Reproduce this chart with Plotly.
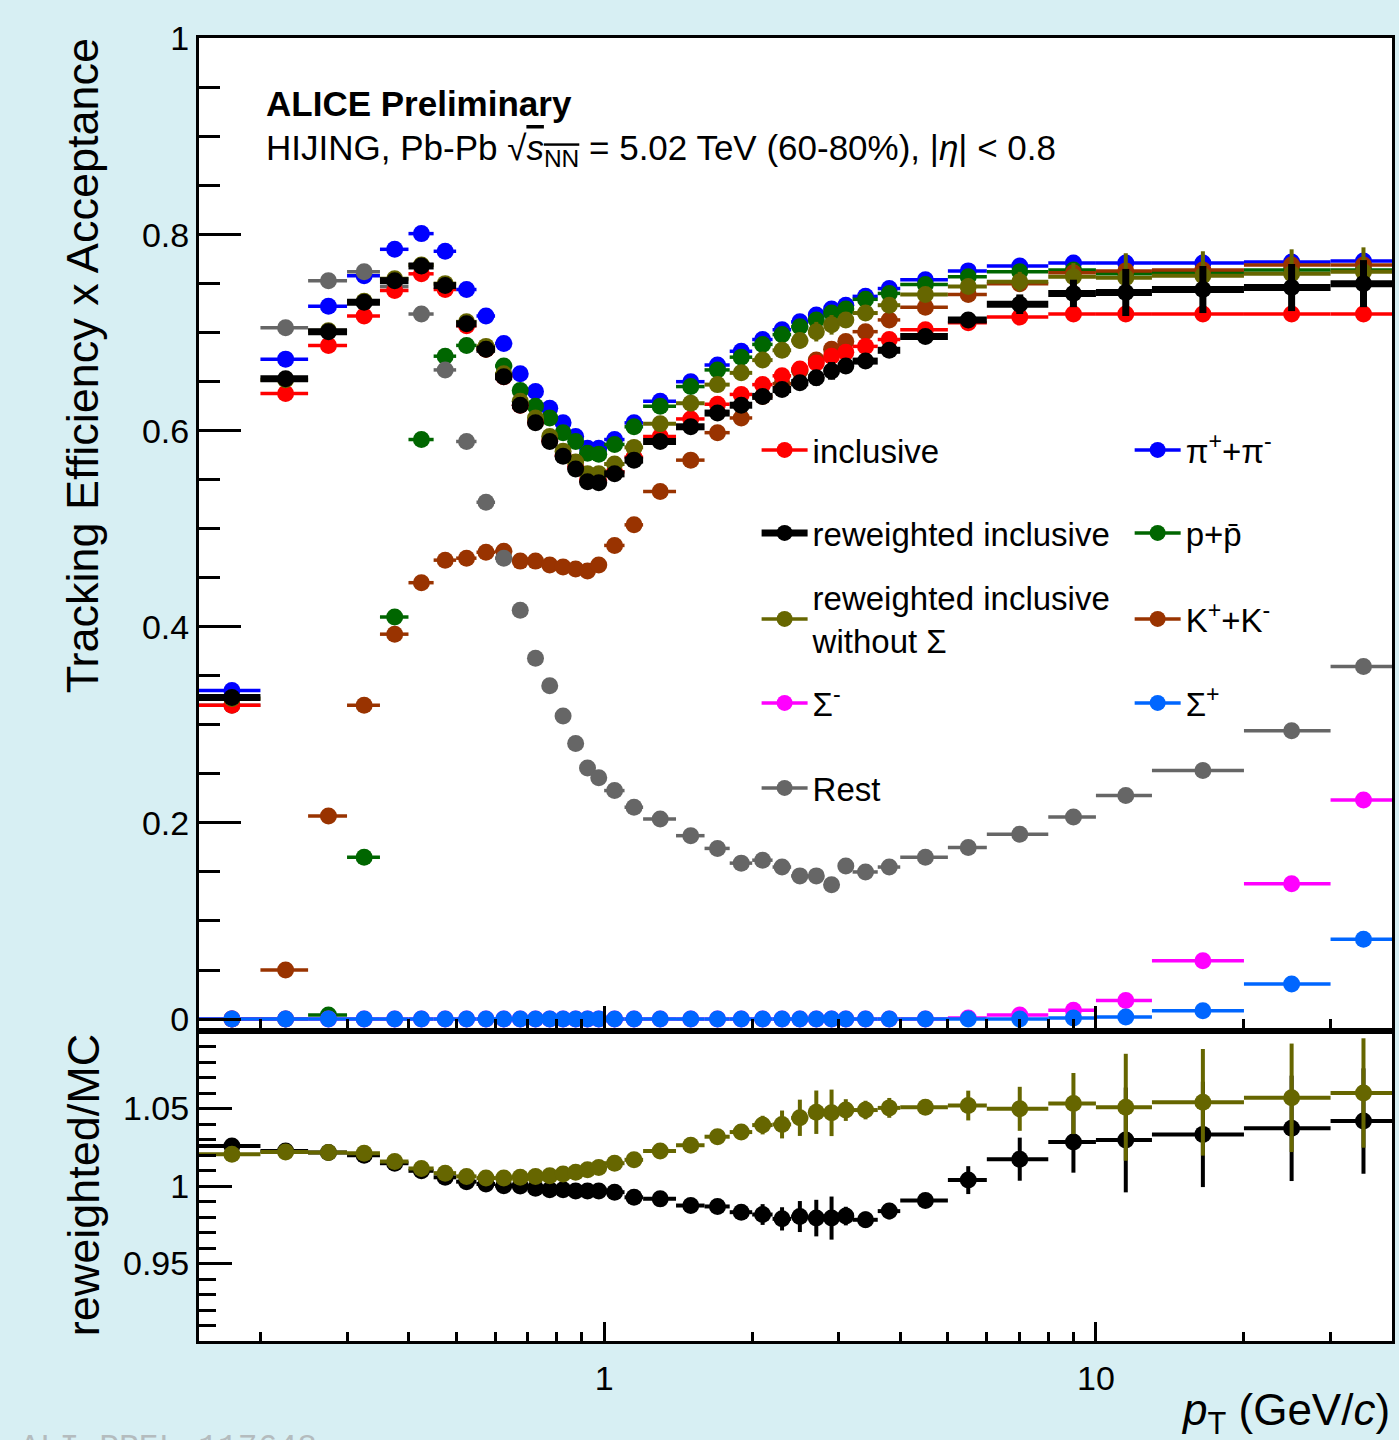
import math
import plotly.graph_objects as go

# ---------------- data ----------------
bin_edges = [0.15, 0.2, 0.25, 0.3, 0.35, 0.4, 0.45, 0.5, 0.55, 0.6, 0.65, 0.7, 0.75, 0.8,
             0.85, 0.9, 0.95, 1.0, 1.1, 1.2, 1.4, 1.6, 1.8, 2.0, 2.2, 2.4, 2.6, 2.8, 3.0,
             3.2, 3.6, 4.0, 5.0, 6.0, 8.0, 10.0, 13.0, 20.0, 30.0, 40.0]
pt = [(a + b) / 2 for a, b in zip(bin_edges[:-1], bin_edges[1:])]
pt_hw = [(b - a) / 2 for a, b in zip(bin_edges[:-1], bin_edges[1:])]

inclusive = [0.320, 0.638, 0.687, 0.717, 0.743, 0.760, 0.744, 0.707, 0.683, 0.655, 0.626, 0.609, 0.590,
             0.575, 0.563, 0.550, 0.549, 0.558, 0.573, 0.594, 0.612, 0.627, 0.637, 0.647, 0.656, 0.663,
             0.669, 0.676, 0.680, 0.686, 0.693, 0.703, 0.710, 0.716, 0.719, 0.719, 0.719, 0.719, 0.719]
reweighted = [0.328, 0.653, 0.701, 0.731, 0.753, 0.768, 0.748, 0.709, 0.683, 0.655, 0.626, 0.608, 0.589,
              0.574, 0.561, 0.548, 0.547, 0.556, 0.570, 0.589, 0.604, 0.618, 0.626, 0.635, 0.642, 0.649,
              0.654, 0.661, 0.666, 0.671, 0.682, 0.696, 0.713, 0.729, 0.740, 0.741, 0.744, 0.746, 0.750]
reweighted_err = [0.002, 0.002, 0.002, 0.002, 0.002, 0.002, 0.002, 0.002, 0.002, 0.002, 0.002, 0.002, 0.002,
                  0.002, 0.002, 0.002, 0.002, 0.002, 0.002, 0.002, 0.002, 0.002, 0.002, 0.004, 0.005, 0.007,
                  0.008, 0.009, 0.004, 0.004, 0.004, 0.002, 0.006, 0.010, 0.014, 0.024, 0.024, 0.024, 0.024]
reweighted_nosigma = [0.327, 0.652, 0.702, 0.732, 0.755, 0.769, 0.750, 0.711, 0.686, 0.658, 0.630, 0.613, 0.594,
                      0.579, 0.568, 0.556, 0.556, 0.566, 0.583, 0.607, 0.628, 0.647, 0.659, 0.672, 0.682, 0.692,
                      0.701, 0.708, 0.713, 0.720, 0.728, 0.739, 0.747, 0.752, 0.757, 0.756, 0.758, 0.760, 0.762]
reweighted_nosigma_err = [0.002, 0.002, 0.002, 0.002, 0.002, 0.002, 0.002, 0.002, 0.002, 0.002, 0.002, 0.002, 0.002,
                          0.002, 0.002, 0.002, 0.002, 0.002, 0.002, 0.002, 0.002, 0.003, 0.003, 0.004, 0.006, 0.008,
                          0.010, 0.010, 0.005, 0.004, 0.005, 0.004, 0.007, 0.010, 0.014, 0.025, 0.025, 0.025, 0.025]
sigma_minus = [0.0, 0.0, 0.0, 0.0, 0.0, 0.0, 0.0, 0.0, 0.0, 0.0, 0.0, 0.0, 0.0,
               0.0, 0.0, 0.0, 0.0, 0.0, 0.0, 0.0, 0.0, 0.0, 0.0, 0.0, 0.0, 0.0,
               0.0, 0.0, 0.0, 0.0, 0.0, 0.0, 0.001, 0.004, 0.009, 0.019, 0.0595, 0.138, 0.2235]
rest = [0.320, 0.705, 0.753, 0.762, 0.747, 0.719, 0.662, 0.589, 0.527, 0.470, 0.417, 0.368, 0.340,
        0.309, 0.281, 0.256, 0.246, 0.233, 0.216, 0.204, 0.187, 0.174, 0.159, 0.162, 0.155, 0.146,
        0.146, 0.137, 0.156, 0.150, 0.155, 0.165, 0.175, 0.1885, 0.206, 0.228, 0.2535, 0.294, 0.3595]
pions = [0.335, 0.673, 0.727, 0.758, 0.785, 0.801, 0.783, 0.744, 0.717, 0.689, 0.658, 0.640, 0.623,
         0.608, 0.594, 0.582, 0.582, 0.591, 0.608, 0.630, 0.650, 0.667, 0.681, 0.693, 0.703, 0.711,
         0.718, 0.724, 0.728, 0.737, 0.745, 0.754, 0.763, 0.768, 0.771, 0.771, 0.771, 0.772, 0.773]
protons = [0.0, 0.0, 0.004, 0.165, 0.410, 0.591, 0.676, 0.687, 0.683, 0.666, 0.641, 0.625, 0.613,
           0.598, 0.589, 0.577, 0.576, 0.586, 0.604, 0.625, 0.645, 0.662, 0.675, 0.688, 0.698, 0.706,
           0.713, 0.720, 0.724, 0.734, 0.740, 0.749, 0.757, 0.762, 0.764, 0.760, 0.761, 0.764, 0.764]
kaons = [0.0, 0.050, 0.207, 0.320, 0.3925, 0.445, 0.468, 0.470, 0.476, 0.477, 0.467, 0.467, 0.463,
         0.461, 0.459, 0.457, 0.463, 0.483, 0.504, 0.538, 0.570, 0.598, 0.613, 0.635, 0.648, 0.661,
         0.672, 0.683, 0.691, 0.701, 0.713, 0.726, 0.739, 0.750, 0.761, 0.763, 0.764, 0.769, 0.769]
sigma_plus = [0.0, 0.0, 0.0, 0.0, 0.0, 0.0, 0.0, 0.0, 0.0, 0.0, 0.0, 0.0, 0.0,
              0.0, 0.0, 0.0, 0.0, 0.0, 0.0, 0.0, 0.0, 0.0, 0.0, 0.0, 0.0, 0.0,
              0.0, 0.0, 0.0, 0.0, 0.0, 0.0, 0.0, 0.0, 0.001, 0.002, 0.0085, 0.0357, 0.0813]

ratio_rw = [1.0258, 1.0226, 1.0216, 1.0199, 1.0147, 1.0098, 1.0056, 1.0028, 1.0013, 1.0002, 1.0000, 0.9985, 0.9976,
            0.9976, 0.9968, 0.9968, 0.9968, 0.9960, 0.9927, 0.9917, 0.9874, 0.9868, 0.9831, 0.9816, 0.9788, 0.9803,
            0.9793, 0.9793, 0.9806, 0.9782, 0.9838, 0.9906, 1.0038, 1.0173, 1.0284, 1.0297, 1.0333, 1.0372, 1.0419]
ratio_rw_err = [0.001, 0.001, 0.001, 0.001, 0.001, 0.001, 0.001, 0.001, 0.001, 0.001, 0.001, 0.001, 0.001,
                0.001, 0.001, 0.001, 0.001, 0.001, 0.001, 0.001, 0.002, 0.003, 0.003, 0.0067, 0.0075, 0.010,
                0.0118, 0.0139, 0.006, 0.0053, 0.0053, 0.003, 0.009, 0.0139, 0.0198, 0.0338, 0.034, 0.034, 0.034]
ratio_nosig = [1.0205, 1.0220, 1.0216, 1.0212, 1.0158, 1.0113, 1.0083, 1.0062, 1.0051, 1.0051, 1.0056, 1.0062, 1.0066,
               1.0077, 1.0088, 1.0105, 1.0120, 1.0147, 1.0169, 1.0226, 1.0263, 1.0318, 1.0348, 1.0393, 1.0397, 1.0440,
               1.0476, 1.0472, 1.0490, 1.0490, 1.0504, 1.0508, 1.0519, 1.0498, 1.0532, 1.0508, 1.0540, 1.0569, 1.0600]
ratio_nosig_err = [0.001, 0.001, 0.001, 0.001, 0.001, 0.001, 0.001, 0.001, 0.001, 0.001, 0.001, 0.001, 0.001,
                   0.001, 0.001, 0.001, 0.001, 0.001, 0.001, 0.001, 0.002, 0.004, 0.005, 0.006, 0.009, 0.0117,
                   0.014, 0.015, 0.007, 0.006, 0.0064, 0.005, 0.0096, 0.0142, 0.0197, 0.0345, 0.0344, 0.035, 0.0353]

y_major = [0, 0.2, 0.4, 0.6, 0.8, 1.0]
y_major_text = ["0", "0.2", "0.4", "0.6", "0.8", "1"]
r_major = [0.95, 1.0, 1.05]
r_major_text = ["0.95", "1", "1.05"]
x_major = [1, 10]
x_major_text = ["1", "10"]
x_minor = [0.2, 0.3, 0.4, 0.5, 0.6, 0.7, 0.8, 0.9, 2, 3, 4, 5, 6, 7, 8, 9, 20, 30, 40]

# ---------------- styling ----------------
FONT = "Liberation Sans"
RED, BLACK, OLIVE, MAGENTA, GRAY = "#ff0000", "#000000", "#666600", "#ff00ff", "#666666"
BLUE, GREEN, BROWN, AZURE = "#0000ff", "#006600", "#993300", "#0066ff"
MS = 17

W, H = 1399, 1440
ML, MR, MT, MB = 199, 4, 38, 99
PW, PH = W - ML - MR, H - MT - MB
split = (1341 - 1031) / PH


def px_x(p):
    return (p - ML) / PW


def px_y(p):
    return (H - MB - p) / PH


def series(y, color, ax, ey=None, lw=3.5):
    return go.Scatter(
        x=pt, y=y, mode="markers", xaxis=ax[0], yaxis=ax[1],
        marker=dict(color=color, size=MS, line=dict(width=0)),
        error_x=dict(type="data", array=pt_hw, color=color, thickness=lw, width=0),
        error_y=dict(type="data", array=ey if ey is not None else [0] * len(pt),
                     color=color, thickness=lw, width=0, visible=ey is not None),
        showlegend=False, hoverinfo="skip")


fig = go.Figure()
top = ("x", "y")
bot = ("x2", "y2")
fig.add_trace(series(pions, BLUE, top))
fig.add_trace(series(protons, GREEN, top))
fig.add_trace(series(kaons, BROWN, top))
fig.add_trace(series(rest, GRAY, top))
fig.add_trace(series(inclusive, RED, top))
fig.add_trace(series(reweighted_nosigma, OLIVE, top, reweighted_nosigma_err, 4))
fig.add_trace(series(reweighted, BLACK, top, reweighted_err, 7))
fig.add_trace(series(sigma_minus, MAGENTA, top))
fig.add_trace(series(sigma_plus, AZURE, top))

fig.add_trace(series(ratio_rw, BLACK, bot, ratio_rw_err, 4))
fig.add_trace(series(ratio_nosig, OLIVE, bot, ratio_nosig_err, 4))

# legend entries (one legend box per entry, laid out in two columns)
entries = [
    ("inclusive", RED, 3.5, "legend", 758, 450),
    ("reweighted inclusive", BLACK, 7, "legend2", 758, 533),
    ("reweighted inclusive<br>without Σ", OLIVE, 3.5, "legend3", 758, 619),
    ("Σ<sup>-</sup>", MAGENTA, 3.5, "legend4", 758, 703),
    ("Rest", GRAY, 3.5, "legend5", 758, 788),
    ("π<sup>+</sup>+π<sup>-</sup>", BLUE, 3.5, "legend6", 1132, 450),
    ("p+p\u0304", GREEN, 3.5, "legend7", 1132, 533),
    ("K<sup>+</sup>+K<sup>-</sup>", BROWN, 3.5, "legend8", 1132, 619),
    ("Σ<sup>+</sup>", AZURE, 3.5, "legend9", 1132, 703),
]
legend_layout = {}
for name, color, lw, lg, lx, ly in entries:
    fig.add_trace(go.Scatter(
        x=[None], y=[None], mode="lines+markers", name=name, legend=lg,
        line=dict(color=color, width=lw), marker=dict(color=color, size=MS),
        xaxis="x", yaxis="y", showlegend=True, hoverinfo="skip"))
    legend_layout[lg] = dict(
        x=px_x(lx), y=px_y(ly), xanchor="left", yanchor="middle",
        bgcolor="rgba(0,0,0,0)", borderwidth=0, itemwidth=46, valign="middle",
        font=dict(family=FONT, size=33, color="black"), itemclick=False, itemdoubleclick=False)

axis_common = dict(showline=True, mirror=True, linecolor="black", linewidth=3,
                   showgrid=False, zeroline=False, tickcolor="black", tickwidth=3,
                   tickfont=dict(family=FONT, size=34, color="black"))

xr = [math.log10(0.15), math.log10(40)]
fig.update_layout(
    width=W, height=H,
    margin=dict(l=ML, r=MR, t=MT, b=MB),
    paper_bgcolor="#d7eff3", plot_bgcolor="white",
    xaxis=dict(type="log", range=xr, domain=[0, 1], anchor="y", matches="x2",
               tickmode="array", tickvals=x_major, showticklabels=False,
               ticks="inside", ticklen=25,
               minor=dict(tickmode="array", tickvals=x_minor, ticks="inside", ticklen=12,
                          tickwidth=3, tickcolor="black", showgrid=False),
               **axis_common),
    yaxis=dict(range=[-0.0122, 1.0005], domain=[split, 1], anchor="x",
               tickmode="array", tickvals=y_major, ticktext=y_major_text,
               ticks="inside", ticklen=42, ticklabelstandoff=0,
               minor=dict(tick0=0, dtick=0.05, ticks="inside", ticklen=21,
                          tickwidth=3, tickcolor="black", showgrid=False),
               **axis_common),
    xaxis2=dict(type="log", range=xr, domain=[0, 1], anchor="y2",
                tickmode="array", tickvals=x_major, ticktext=x_major_text,
                ticks="inside", ticklen=19, ticklabelstandoff=5,
                minor=dict(tickmode="array", tickvals=x_minor, ticks="inside", ticklen=9,
                           tickwidth=3, tickcolor="black", showgrid=False),
                **axis_common),
    yaxis2=dict(range=[0.9, 1.1], domain=[0, split], anchor="x2",
                tickmode="array", tickvals=r_major, ticktext=r_major_text,
                ticks="inside", ticklen=33, ticklabelstandoff=0,
                minor=dict(tick0=0.9, dtick=0.01, ticks="inside", ticklen=17,
                           tickwidth=3, tickcolor="black", showgrid=False),
                **axis_common),
    **legend_layout,
)

ann = [
    dict(text="Tracking Efficiency x Acceptance", x=px_x(83), y=px_y(366), textangle=-90,
         xanchor="center", yanchor="middle", font=dict(family=FONT, size=45, color="black")),
    dict(text="reweighted/MC", x=px_x(83), y=px_y(1185), textangle=-90,
         xanchor="center", yanchor="middle", font=dict(family=FONT, size=45, color="black")),
    dict(text="<i>p</i><sub>T</sub> (GeV/<i>c</i>)", x=px_x(1395), y=px_y(1413),
         xanchor="right", yanchor="middle", font=dict(family=FONT, size=44, color="black")),
    dict(text="<b>ALICE Preliminary</b>", x=px_x(264), y=px_y(103),
         xanchor="left", yanchor="middle", font=dict(family=FONT, size=35, color="black")),
    dict(text="HIJING, Pb-Pb √<span style='text-decoration:overline'><i>s</i><sub>NN</sub></span>"
              " = 5.02 TeV (60-80%), |<i>η</i>| &lt; 0.8",
         x=px_x(264), y=px_y(150), xanchor="left", yanchor="middle",
         font=dict(family=FONT, size=35, color="black")),
    dict(text="ALI-PREL-117648", x=px_x(18), y=px_y(1428), xanchor="left", yanchor="top",
         font=dict(family="Liberation Mono", size=33, color="#b4bcbe")),
]
for a in ann:
    a.update(xref="paper", yref="paper", showarrow=False)
fig.update_layout(annotations=ann)

fig.write_html("out.html", config={"displayModeBar": False},
               post_script="document.body.style.margin='0px';document.body.style.overflow='hidden';")
